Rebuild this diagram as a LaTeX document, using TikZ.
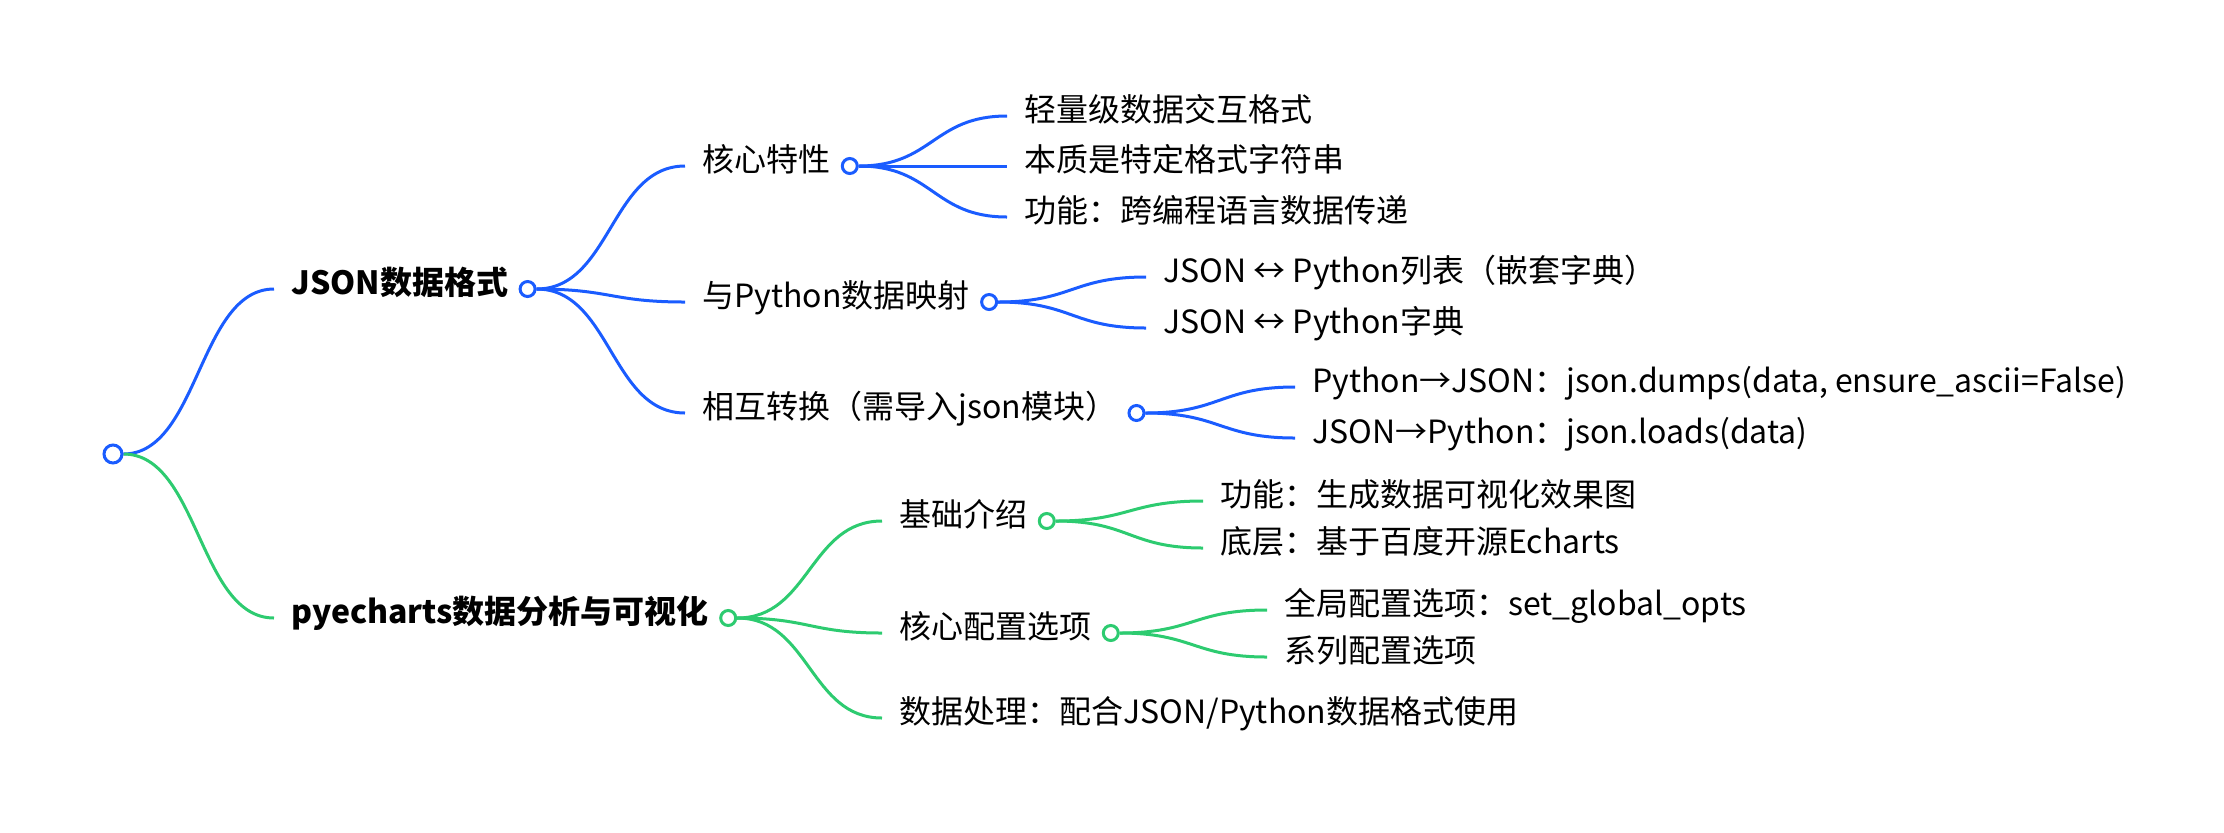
\documentclass[tikz,border=0pt]{standalone}
\usepackage{fontspec}
\setmainfont{Noto Sans CJK SC}
\usepackage{tikz}
\usetikzlibrary{calc,positioning,backgrounds}
\definecolor{mapblue}{HTML}{1A5CFF}
\definecolor{mapgreen}{HTML}{2DCB70}
\tikzset{
  topic/.style={anchor=west,inner xsep=8.5pt,inner ysep=0pt,text height=0.5em,text depth=0pt,font=\fontsize{16}{18}\selectfont},
  maintopic/.style={topic,font=\fontsize{16}{18}\selectfont\bfseries},
  dot/.style={circle,draw,fill=white,line width=1.5pt,minimum size=7.5pt,inner sep=0pt},
  link/.style={line width=1.5pt,to path={let \p1=(\tikztostart),\p2=(\tikztotarget) in .. controls ({(\x1+\x2)/2},\y1) and ({(\x1+\x2)/2},\y2) .. (\tikztotarget)}}
}

\begin{document}
\begin{tikzpicture}[x=0.5pt,y=-0.5pt]
  \useasboundingbox (0,0) rectangle (2224,832);
  \node[dot,draw=mapblue,minimum size=9pt] (root) at (113,454) {};
  % JSON branch
  \node[maintopic] (json) at (274,289) {JSON数据格式};
  \node[dot,draw=mapblue,right=-3.5pt of json] (jsondot) {};
  \node[topic] (core) at (685,166) {核心特性};
  \node[dot,draw=mapblue,right=-3.5pt of core] (coredot) {};
  \node[topic] (light) at (1007,116) {轻量级数据交互格式};
  \node[topic] (nature) at (1007,166) {本质是特定格式字符串};
  \node[topic] (func) at (1007,217) {功能：跨编程语言数据传递};
  \node[topic] (pymap) at (685,302) {与Python数据映射};
  \node[dot,draw=mapblue,right=-3.5pt of pymap] (pymapdot) {};
  \node[topic] (maplist) at (1146,277) {JSON ↔ Python列表（嵌套字典）};
  \node[topic] (mapdict) at (1146,328) {JSON ↔ Python字典};
  \node[topic] (conv) at (685,413) {相互转换（需导入json模块）};
  \node[dot,draw=mapblue,right=-3.5pt of conv] (convdot) {};
  \node[topic] (dumps) at (1295,387) {Python→JSON：json.dumps(data, ensure\_ascii=False)};
  \node[topic] (loads) at (1295,438) {JSON→Python：json.loads(data)};
  % pyecharts branch
  \node[maintopic] (pyech) at (274,618) {pyecharts数据分析与可视化};
  \node[dot,draw=mapgreen,right=-3.5pt of pyech] (pyechdot) {};
  \node[topic] (basic) at (882,521) {基础介绍};
  \node[dot,draw=mapgreen,right=-3.5pt of basic] (basicdot) {};
  \node[topic] (gen) at (1203,501) {功能：生成数据可视化效果图};
  \node[topic] (base) at (1203,548) {底层：基于百度开源Echarts};
  \node[topic] (opts) at (882,633) {核心配置选项};
  \node[dot,draw=mapgreen,right=-3.5pt of opts] (optsdot) {};
  \node[topic] (glob) at (1267,610) {全局配置选项：set\_global\_opts};
  \node[topic] (series) at (1267,657) {系列配置选项};
  \node[topic] (proc) at (882,718) {数据处理：配合JSON/Python数据格式使用};
  \begin{scope}[on background layer]
    \draw[link,mapblue] (root.east) to (json.west);
    \foreach \kid in {core,pymap,conv}{\draw[link,mapblue] (jsondot.east) to (\kid.west);}
    \foreach \kid in {light,nature,func}{\draw[link,mapblue] (coredot.east) to (\kid.west);}
    \foreach \kid in {maplist,mapdict}{\draw[link,mapblue] (pymapdot.east) to (\kid.west);}
    \foreach \kid in {dumps,loads}{\draw[link,mapblue] (convdot.east) to (\kid.west);}
    \draw[link,mapgreen] (root.east) to (pyech.west);
    \foreach \kid in {basic,opts,proc}{\draw[link,mapgreen] (pyechdot.east) to (\kid.west);}
    \foreach \kid in {gen,base}{\draw[link,mapgreen] (basicdot.east) to (\kid.west);}
    \foreach \kid in {glob,series}{\draw[link,mapgreen] (optsdot.east) to (\kid.west);}
  \end{scope}
\end{tikzpicture}
\end{document}
